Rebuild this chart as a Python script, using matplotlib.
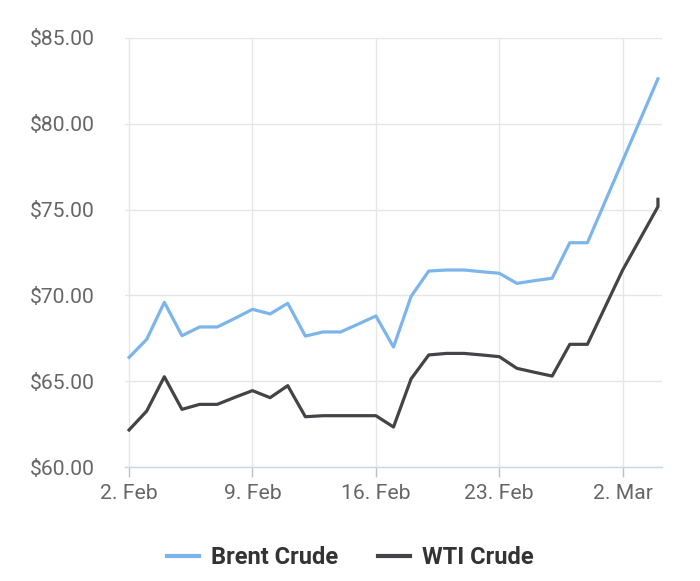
import matplotlib
matplotlib.use("Agg")
import matplotlib.pyplot as plt
import matplotlib.dates as mdates
import numpy as np

plt.rcParams["font.family"] = ["Roboto", "DejaVu Sans"]

brent_dates = ["2022-02-02", "2022-02-03", "2022-02-04", "2022-02-05", "2022-02-06",
               "2022-02-07", "2022-02-08", "2022-02-09", "2022-02-10", "2022-02-11",
               "2022-02-12", "2022-02-13", "2022-02-14", "2022-02-15", "2022-02-16",
               "2022-02-17", "2022-02-18", "2022-02-19", "2022-02-20", "2022-02-21",
               "2022-02-22", "2022-02-23", "2022-02-24", "2022-02-25", "2022-02-26",
               "2022-02-27", "2022-02-28", "2022-03-04"]
brent = [66.39, 67.44, 69.60, 67.65, 68.16, 68.16, 68.66, 69.19, 68.92, 69.54,
         67.63, 67.87, 67.87, 68.33, 68.80, 66.99, 69.95, 71.42, 71.48, 71.48,
         71.38, 71.29, 70.70, 70.86, 71.00, 73.07, 73.07, 82.62]

wti_dates = ["2022-02-02", "2022-02-03", "2022-02-04", "2022-02-05", "2022-02-06",
             "2022-02-07", "2022-02-08", "2022-02-09", "2022-02-10", "2022-02-11",
             "2022-02-12", "2022-02-13", "2022-02-14", "2022-02-15", "2022-02-16",
             "2022-02-17", "2022-02-18", "2022-02-19", "2022-02-20", "2022-02-21",
             "2022-02-22", "2022-02-23", "2022-02-24", "2022-02-25", "2022-02-26",
             "2022-02-27", "2022-02-28", "2022-03-02", "2022-03-04", "2022-03-04"]
wti = [62.16, 63.26, 65.26, 63.36, 63.65, 63.65, 64.06, 64.45, 64.04, 64.74,
       62.93, 62.99, 62.99, 62.99, 62.99, 62.33, 65.14, 66.53, 66.62, 66.62,
       66.53, 66.43, 65.75, 65.52, 65.30, 67.15, 67.15, 71.48, 75.17, 75.60]

tick_dates = ["2022-02-02", "2022-02-09", "2022-02-16", "2022-02-23", "2022-03-02"]
tick_labels = ["2. Feb", "9. Feb", "16. Feb", "23. Feb", "2. Mar"]
y_ticks = [60, 65, 70, 75, 80, 85]

bx = mdates.datestr2num(brent_dates)
wx = mdates.datestr2num(wti_dates)
tx = mdates.datestr2num(tick_dates)

fig = plt.figure(figsize=(7, 5.81), dpi=100)
ax = fig.add_axes([0.1786, 0.1962, 0.7671, 0.7384])

ax.plot(bx, brent, color="#7cb5ec", lw=2.3, label="Brent Crude", solid_joinstyle="round")
ax.plot(wx, wti, color="#434348", lw=2.3, label="WTI Crude", solid_joinstyle="round")

ax.set_xlim(bx[0] - 0.23, bx[-1] + 0.23)
ax.set_ylim(60, 85)
ax.set_xticks(tx)
ax.set_xticklabels(tick_labels)
ax.set_yticks(y_ticks)
ax.set_yticklabels([f"${v:.2f}" for v in y_ticks])

ax.grid(True, color="#e6e6e6", lw=1)
ax.set_axisbelow(True)
for s in ["top", "right", "left"]:
    ax.spines[s].set_visible(False)
ax.spines["bottom"].set_color("#ccd6eb")
ax.spines["bottom"].set_linewidth(1)

ax.tick_params(axis="y", length=0, pad=22, labelsize=15.2, labelcolor="#666666")
ax.tick_params(axis="x", length=7.5, width=1, color="#c0c0c0", pad=5,
               labelsize=15.2, labelcolor="#666666")

leg = fig.legend(loc="center", bbox_to_anchor=(0.5, 0.04), ncol=2, frameon=False,
                 handlelength=1.35, columnspacing=1.7, handletextpad=0.5,
                 prop={"size": 17, "weight": "bold"})
for t in leg.get_texts():
    t.set_color("#333333")
for h in leg.get_lines():
    h.set_linewidth(3)

fig.savefig("out.png", dpi=100)
